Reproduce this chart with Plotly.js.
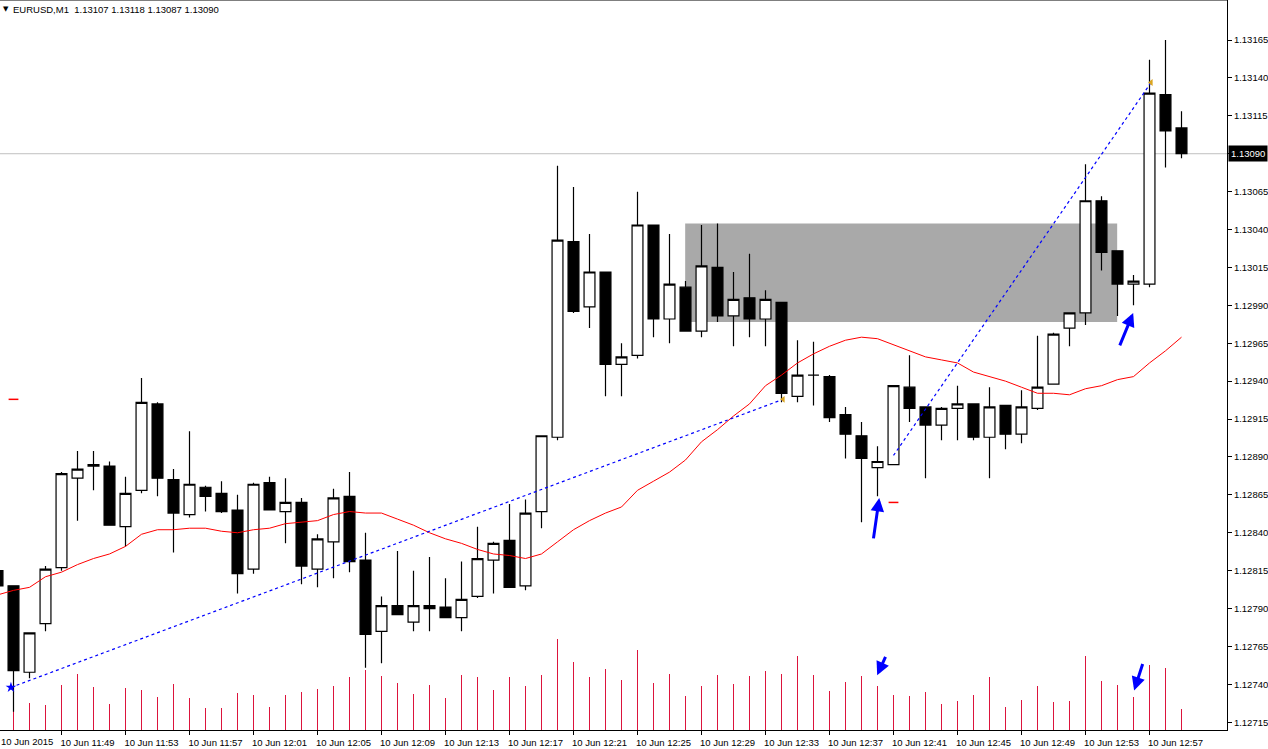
<!DOCTYPE html>
<html>
<head>
<meta charset="utf-8">
<script src="https://cdn.plot.ly/plotly-3.0.1.min.js"></script>
<style>
html,body{margin:0;padding:0;background:#fff;}
#chart{width:1268px;height:749px;}
</style>
</head>
<body>
<div id="chart"></div>
<script>
// ---- EURUSD M1, 10 Jun 2015 11:45 .. 12:59 ----
var openP  = [1.12815,1.12805,1.12748,1.12780,1.12817,1.12876,1.12884,1.12884,1.12844,1.12868,
              1.12925,1.12875,1.12852,1.12870,1.12866,1.12855,1.12816,1.12873,1.12854,1.12860,
              1.12816,1.12834,1.12864,1.12822,1.12775,1.12792,1.12781,1.12792,1.12791,1.12784,
              1.12798,1.12822,1.12835,1.12805,1.12854,1.12903,1.13032,1.12989,1.13012,1.12951,
              1.12957,1.13043,1.12981,1.13002,1.12973,1.13015,1.12983,1.12995,1.12981,1.12992,
              1.12930,1.12944,1.12943,1.12918,1.12904,1.12883,1.12885,1.12936,1.12923,1.12911,
              1.12922,1.12925,1.12903,1.12924,1.12905,1.12922,1.12938,1.12975,1.12985,1.13059,
              1.13026,1.13004,1.13004,1.13129,1.13107];
var highP  = [1.12818,1.12805,1.12774,1.12818,1.12880,1.12894,1.12894,1.12887,1.12877,1.12942,
              1.12926,1.12882,1.12907,1.12871,1.12874,1.12865,1.12873,1.12877,1.12876,1.12863,
              1.12839,1.12869,1.12880,1.12840,1.12798,1.12828,1.12815,1.12824,1.12810,1.12821,
              1.12844,1.12834,1.12859,1.12862,1.12904,1.13082,1.13068,1.13037,1.13012,1.12965,
              1.13065,1.13043,1.13037,1.13006,1.13043,1.13044,1.13012,1.13024,1.13000,1.12992,
              1.12967,1.12966,1.12944,1.12923,1.12913,1.12897,1.12937,1.12957,1.12923,1.12923,
              1.12937,1.12925,1.12936,1.12924,1.12934,1.12970,1.12972,1.12985,1.13083,1.13062,
              1.13026,1.13010,1.13152,1.13165,1.13118];
var lowP   = [1.12800,1.12722,1.12744,1.12775,1.12815,1.12848,1.12868,1.12845,1.12831,1.12866,
              1.12864,1.12827,1.12850,1.12854,1.12853,1.12800,1.12813,1.12855,1.12833,1.12806,
              1.12804,1.12810,1.12814,1.12751,1.12754,1.12786,1.12775,1.12775,1.12784,1.12775,
              1.12797,1.12800,1.12804,1.12802,1.12843,1.12901,1.12985,1.12975,1.12930,1.12930,
              1.12955,1.12969,1.12965,1.12973,1.12969,1.12979,1.12963,1.12969,1.12963,1.12926,
              1.12926,1.12924,1.12913,1.12889,1.12847,1.12864,1.12885,1.12913,1.12876,1.12901,
              1.12901,1.12901,1.12876,1.12895,1.12899,1.12921,1.12938,1.12963,1.12977,1.13013,
              1.12983,1.12990,1.13002,1.13081,1.13087];
var closeP = [1.12805,1.12749,1.12774,1.12816,1.12879,1.12882,1.12885,1.12845,1.12866,1.12926,
              1.12876,1.12853,1.12872,1.12864,1.12854,1.12813,1.12872,1.12855,1.12860,1.12818,
              1.12836,1.12863,1.12821,1.12773,1.12792,1.12786,1.12792,1.12790,1.12784,1.12796,
              1.12823,1.12833,1.12804,1.12853,1.12904,1.13033,1.12986,1.13012,1.12951,1.12956,
              1.13043,1.12981,1.13004,1.12973,1.13016,1.12983,1.12994,1.12981,1.12994,1.12932,
              1.12944,1.12944,1.12916,1.12905,1.12889,1.12887,1.12937,1.12922,1.12911,1.12922,
              1.12925,1.12903,1.12923,1.12905,1.12923,1.12936,1.12971,1.12985,1.13059,1.13025,
              1.13004,1.13006,1.13130,1.13105,1.13090];
var tickVolume = [20,19,27,25,45,56,43,26,42,40,
                  33,46,32,22,22,37,35,23,35,38,
                  41,44,53,60,54,47,36,45,32,55,
                  53,40,53,44,55,91,68,53,61,50,
                  80,47,56,34,44,55,46,54,59,56,
                  74,55,39,48,54,44,35,34,38,26,
                  29,35,53,23,30,44,28,29,74,49,
                  45,33,65,62,21];
var maLine = [1.12799,1.12802,1.12804,1.12811,1.12814,1.12819,1.12823,1.12826,1.12831,1.12839,
              1.12842,1.12842,1.12843,1.12843,1.12841,1.12840,1.12842,1.12843,1.12846,1.12847,
              1.12848,1.12852,1.12854,1.12853,1.12853,1.12849,1.12845,1.12840,1.12836,1.12833,
              1.12829,1.12826,1.12825,1.12823,1.12826,1.12834,1.12842,1.12848,1.12853,1.12857,
              1.12868,1.12874,1.12880,1.12888,1.12900,1.12908,1.12917,1.12925,1.12937,1.12944,
              1.12952,1.12958,1.12963,1.12967,1.12969,1.12968,1.12964,1.12960,1.12956,1.12954,
              1.12952,1.12946,1.12943,1.12940,1.12936,1.12932,1.12932,1.12931,1.12935,1.12937,
              1.12941,1.12943,1.12952,1.12960,1.12969];

// time axis labels (bar index -> label)
var timeTickIdx  = [4,8,12,16,20,24,28,32,36,40,44,48,52,56,60,64,68,72];
var timeTickText = ["10 Jun 11:49","10 Jun 11:53","10 Jun 11:57","10 Jun 12:01","10 Jun 12:05",
                    "10 Jun 12:09","10 Jun 12:13","10 Jun 12:17","10 Jun 12:21","10 Jun 12:25",
                    "10 Jun 12:29","10 Jun 12:33","10 Jun 12:37","10 Jun 12:41","10 Jun 12:45",
                    "10 Jun 12:49","10 Jun 12:53","10 Jun 12:57"];
var firstLabel = "10 Jun 2015";
// price axis labels (the 1.13090 level is shown by the last-price box)
var priceTicks = [1.12715,1.12740,1.12765,1.12790,1.12815,1.12840,1.12865,1.12890,1.12915,1.12940,
                  1.12965,1.12990,1.13015,1.13040,1.13065,1.13090,1.13115,1.13140,1.13165];
var priceTickText = ["1.12715","1.12740","1.12765","1.12790","1.12815","1.12840","1.12865","1.12890","1.12915","1.12940",
                     "1.12965","1.12990","1.13015","1.13040","1.13065","","1.13115","1.13140","1.13165"];

// drawn objects
var trend1X = [0.84, 49.1],  trend1Y = [1.12738, 1.12928];
var trend2X = [56.0, 72.1],  trend2Y = [1.12891, 1.13137];
var zoneX = [42.98, 69.98],  zoneY = [1.12979, 1.13044];
var anchorX = [49.1, 72.1],  anchorY = [1.12928, 1.13137];
var startX = [0.84], startY = [1.12738];
var dashX = [1.0, 56.0], dashY = [1.12928, 1.12860];
var lastPrice = 1.13090;
var headerText = "EURUSD,M1\u00a0\u00a01.13107 1.13118 1.13087 1.13090";
// arrows: head position (bar index, price) and tail offset in px
var arrowX  = [55.11, 70.98, 54.98, 71.04];
var arrowY  = [1.12863, 1.12985, 1.12746, 1.12736];
var arrowAX = [-6, -14, 9, 9];
var arrowAY = [42, 34, -20, -28];

var idx = openP.map(function(_, i){ return i; });
// volume histogram as thin vertical sticks (bar index, 0 -> volume)
var volX = [], volY = [];
idx.forEach(function(i){ volX.push(i, i, null); volY.push(0, tickVolume[i], null); });

var FONT = "Liberation Sans, Arial, sans-serif";
var X0 = 0.15625;

var traces = [
  { type:'scatter', mode:'lines', x: volX, y: volY, yaxis:'y', xaxis:'x', connectgaps:false,
    line:{color:'#DC143C', width:1}, hoverinfo:'skip', showlegend:false },
  { type:'scatter', mode:'lines', x: idx, y: maLine, yaxis:'y2',
    line:{color:'#FF0000', width:1}, hoverinfo:'skip', showlegend:false },
  { type:'scatter', mode:'lines', x: trend1X, y: trend1Y, yaxis:'y2',
    line:{color:'#0000FF', width:1.2, dash:'dot'}, hoverinfo:'skip', showlegend:false },
  { type:'scatter', mode:'lines', x: trend2X, y: trend2Y, yaxis:'y2',
    line:{color:'#0000FF', width:1.2, dash:'dot'}, hoverinfo:'skip', showlegend:false },
  { type:'candlestick', x: idx, open: openP, high: highP, low: lowP, close: closeP, yaxis:'y2',
    increasing:{line:{color:'#000000', width:1.2}, fillcolor:'#FFFFFF'},
    decreasing:{line:{color:'#000000', width:1.2}, fillcolor:'#000000'},
    whiskerwidth:0, hoverinfo:'skip', showlegend:false },
  { type:'scatter', mode:'markers', x: anchorX, y: anchorY, yaxis:'y2',
    marker:{symbol:'triangle-left', size:6, color:'#DAA520'}, hoverinfo:'skip', showlegend:false },
  { type:'scatter', mode:'markers', x: startX, y: startY, yaxis:'y2',
    marker:{symbol:'star', size:8, color:'#0000FF'}, hoverinfo:'skip', showlegend:false },
  { type:'scatter', mode:'markers', x: dashX, y: dashY, yaxis:'y2',
    marker:{symbol:'line-ew', size:7, line:{color:'#FF0000', width:1.5}}, hoverinfo:'skip', showlegend:false }
];

var annotations = [
  { xref:'paper', yref:'paper', x:0, y:1, xanchor:'left', yanchor:'top', xshift:1, yshift:-3,
    text:'\u25BC', showarrow:false, font:{family:'DejaVu Sans', size:7, color:'#000'} },
  { xref:'paper', yref:'paper', x:0, y:1, xanchor:'left', yanchor:'top', xshift:11, yshift:-2,
    text: headerText, showarrow:false, font:{family:FONT, size:9.5, color:'#000'} },
  { xref:'paper', yref:'paper', x:0, y:0, xanchor:'left', yanchor:'top', xshift:-1, yshift:-4,
    text: firstLabel, showarrow:false, font:{family:FONT, size:9.5, color:'#000'} },
  { xref:'paper', yref:'y2', x:1, y:lastPrice, xanchor:'left', yanchor:'middle', xshift:1,
    text: lastPrice.toFixed(5), showarrow:false, bgcolor:'#000000', borderpad:2,
    font:{family:FONT, size:9.5, color:'#FFFFFF'} }
];
for (var k = 0; k < arrowX.length; k++) {
  annotations.push({ xref:'x', yref:'y2', x: arrowX[k], y: arrowY[k], ax: arrowAX[k], ay: arrowAY[k],
    text:'', showarrow:true, arrowhead:2, arrowsize:0.9, arrowwidth:3, arrowcolor:'#0000FF', standoff:0 });
}

var layout = {
  width:1268, height:749,
  margin:{l:0, r:41, t:0, b:19, pad:0},
  paper_bgcolor:'#FFFFFF', plot_bgcolor:'#FFFFFF',
  showlegend:false,
  boxgap:0.32, boxgroupgap:0,
  font:{family:FONT, size:9.5, color:'#000'},
  xaxis:{ range:[X0, X0 + 1227/16], showgrid:false, zeroline:false,
    rangeslider:{visible:false},
    tickmode:'array', tickvals: timeTickIdx, ticktext: timeTickText,
    ticks:'outside', ticklen:4, tickcolor:'#000', tickwidth:1,
    ticklabelshift: 26, ticklabelstandoff: 0,
    showline:true, linecolor:'#000', linewidth:1,
    tickfont:{family:FONT, size:9.5, color:'#000'}, fixedrange:true },
  yaxis:{ range:[0, 730], visible:false, showgrid:false, zeroline:false, fixedrange:true },
  yaxis2:{ overlaying:'y', side:'right', anchor:'x',
    range:[1.127099, 1.131914], showgrid:false, zeroline:false,
    tickmode:'array', tickvals: priceTicks, ticktext: priceTickText,
    ticks:'outside', ticklen:4, tickcolor:'#000', tickwidth:1,
    showline:true, linecolor:'#000', linewidth:1,
    tickfont:{family:FONT, size:9.5, color:'#000'}, fixedrange:true },
  shapes:[
    { type:'rect', xref:'x', yref:'y2', x0: zoneX[0], x1: zoneX[1], y0: zoneY[0], y1: zoneY[1],
      fillcolor:'#A9A9A9', line:{width:0}, layer:'below' },
    { type:'line', xref:'paper', yref:'y2', x0:0, x1:1, y0:lastPrice, y1:lastPrice,
      line:{color:'#C0C0C0', width:1}, layer:'below' },
    { type:'line', xref:'paper', yref:'paper', x0:0, x1:1, y0:1, y1:1,
      line:{color:'#000', width:1} }
  ],
  annotations: annotations
};

Plotly.newPlot('chart', traces, layout, {staticPlot:true, displayModeBar:false});
</script>
</body>
</html>
